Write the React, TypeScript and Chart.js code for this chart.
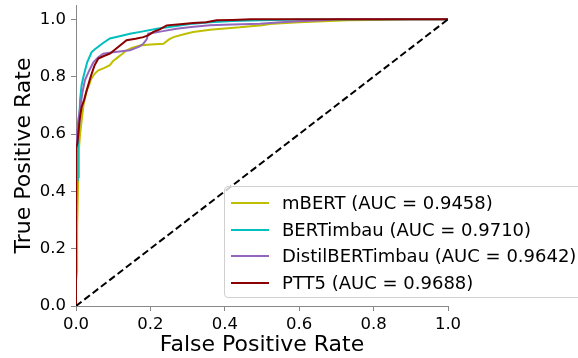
import React, { useEffect, useRef } from "react";
import { Chart, registerables } from "chart.js";

Chart.register(...registerables);

const FONT = "'DejaVu Sans', sans-serif";

const xTicks = [0, 0.2, 0.4, 0.6, 0.8, 1.0];
const yTicks = [0, 0.2, 0.4, 0.6, 0.8, 1.0];

const modelNames = ["mBERT", "BERTimbau", "DistilBERTimbau", "PTT5"];
const aucValues = ["0.9458", "0.9710", "0.9642", "0.9688"];
const modelColors = ["#bfbf00", "#00bfbf", "#9467bd", "#8b0000"];

const mbertFpr = [0, 0, 0.003, 0.003, 0.006, 0.008, 0.011, 0.02, 0.029, 0.035, 0.04, 0.05, 0.06, 0.075, 0.091, 0.1, 0.114, 0.125, 0.136, 0.15, 0.172, 0.2, 0.235, 0.25, 0.262, 0.29, 0.315, 0.34, 0.36, 0.4, 0.44, 0.47, 0.5, 0.53, 0.6, 0.73, 0.8, 0.9, 1.0];
const mbertTpr = [0, 0.09, 0.12, 0.27, 0.45, 0.55, 0.6, 0.7, 0.753, 0.77, 0.79, 0.81, 0.822, 0.83, 0.84, 0.855, 0.869, 0.88, 0.892, 0.9, 0.909, 0.912, 0.915, 0.93, 0.938, 0.948, 0.956, 0.96, 0.964, 0.968, 0.972, 0.976, 0.979, 0.985, 0.99, 0.997, 0.998, 1.0, 1.0];

const bertimbauFpr = [0, 0, 0.003, 0.005, 0.008, 0.011, 0.015, 0.02, 0.03, 0.042, 0.05, 0.07, 0.091, 0.12, 0.145, 0.18, 0.217, 0.26, 0.315, 0.36, 0.42, 0.5, 0.6, 0.75, 1.0];
const bertimbauTpr = [0, 0.28, 0.44, 0.55, 0.62, 0.72, 0.77, 0.8, 0.85, 0.886, 0.895, 0.915, 0.933, 0.942, 0.95, 0.958, 0.967, 0.975, 0.985, 0.99, 0.994, 0.997, 0.999, 1.0, 1.0];

const distilFpr = [0, 0, 0.003, 0.006, 0.012, 0.018, 0.024, 0.035, 0.047, 0.06, 0.073, 0.1, 0.145, 0.17, 0.181, 0.19, 0.194, 0.23, 0.27, 0.31, 0.36, 0.42, 0.495, 0.55, 0.6, 0.664, 0.7, 1.0];
const distilTpr = [0, 0.5, 0.6, 0.648, 0.7, 0.75, 0.787, 0.82, 0.851, 0.868, 0.88, 0.885, 0.892, 0.905, 0.915, 0.93, 0.95, 0.958, 0.967, 0.973, 0.979, 0.982, 0.985, 0.99, 0.993, 0.997, 1.0, 1.0];

const ptt5Fpr = [0, 0, 0.004, 0.006, 0.01, 0.015, 0.022, 0.029, 0.035, 0.042, 0.05, 0.06, 0.075, 0.091, 0.11, 0.136, 0.16, 0.181, 0.195, 0.208, 0.225, 0.244, 0.28, 0.315, 0.35, 0.378, 0.42, 0.47, 1.0];
const ptt5Tpr = [0, 0.55, 0.57, 0.6, 0.65, 0.694, 0.72, 0.753, 0.78, 0.81, 0.84, 0.863, 0.872, 0.88, 0.9, 0.927, 0.932, 0.938, 0.945, 0.956, 0.965, 0.979, 0.983, 0.987, 0.99, 0.997, 0.998, 1.0, 1.0];

const chanceFpr = [0, 1];
const chanceTpr = [0, 1];

const fprSeries = [mbertFpr, bertimbauFpr, distilFpr, ptt5Fpr];
const tprSeries = [mbertTpr, bertimbauTpr, distilTpr, ptt5Tpr];

const toPoints = (xs: number[], ys: number[]) => xs.map((x, i) => ({ x, y: ys[i] }));

export default function App() {
  const canvasRef = useRef<HTMLCanvasElement>(null);

  useEffect(() => {
    const canvas = canvasRef.current;
    if (!canvas) return;
    const datasets: any[] = modelNames.map((name, i) => ({
      label: `${name} (AUC = ${aucValues[i]})`,
      data: toPoints(fprSeries[i], tprSeries[i]),
      borderColor: modelColors[i],
      backgroundColor: modelColors[i],
      borderWidth: 2,
      pointRadius: 0,
      tension: 0,
      fill: false,
      order: 5 - i,
    }));
    datasets.push({
      label: "chance",
      data: toPoints(chanceFpr, chanceTpr),
      borderColor: "#000000",
      borderWidth: 2,
      borderDash: [7, 3.5],
      pointRadius: 0,
      fill: false,
      order: 0,
    });

    const tickFont = { family: FONT, size: 16.5 };
    const titleFont = { family: FONT, size: 22 };

    const chart = new Chart(canvas, {
      type: "line",
      data: { datasets },
      options: {
        animation: false,
        responsive: false,
        devicePixelRatio: 1,
        layout: { padding: { left: 0, top: 5, right: 130, bottom: 0 } },
        plugins: { legend: { display: false }, tooltip: { enabled: false } },
        scales: {
          x: {
            type: "linear",
            min: 0,
            max: 1,
            afterBuildTicks: (s: any) => {
              s.ticks = xTicks.map((v) => ({ value: v }));
            },
            afterFit: (s: any) => {
              s.height = 52;
              s.paddingLeft = 0;
              s.paddingRight = 0;
            },
            ticks: {
              autoSkip: false,
              maxRotation: 0,
              padding: 4,
              color: "#000",
              font: tickFont,
              callback: (v: any) => Number(v).toFixed(1),
            },
            grid: { drawOnChartArea: false, drawTicks: true, tickLength: 5, color: "#888" },
            border: { display: true, color: "#888", width: 1 },
            title: {
              display: true,
              text: "False Positive Rate",
              color: "#000",
              font: titleFont,
              padding: { top: 0, bottom: 0 },
            },
          },
          y: {
            type: "linear",
            min: 0,
            max: 1.05,
            afterBuildTicks: (s: any) => {
              s.ticks = yTicks.map((v) => ({ value: v }));
            },
            afterFit: (s: any) => {
              s.width = 76;
              s.paddingTop = 0;
              s.paddingBottom = 0;
            },
            ticks: {
              autoSkip: false,
              padding: 5,
              color: "#000",
              font: tickFont,
              callback: (v: any) => Number(v).toFixed(1),
            },
            grid: { drawOnChartArea: false, drawTicks: true, tickLength: 5, color: "#888" },
            border: { display: true, color: "#888", width: 1 },
            title: {
              display: true,
              text: "True Positive Rate",
              color: "#000",
              font: titleFont,
              padding: { top: 11, bottom: 0 },
            },
          },
        },
      },
    } as any);
    return () => chart.destroy();
  }, []);

  return (
    <div
      style={{
        position: "fixed",
        left: 0,
        top: 0,
        width: 578,
        height: 358,
        overflow: "hidden",
        background: "#fff",
      }}
    >
      <canvas ref={canvasRef} width={578} height={358} style={{ display: "block" }} />
      <div
        style={{
          position: "absolute",
          left: 224,
          top: 186,
          width: 380,
          height: 112,
          boxSizing: "border-box",
          border: "1px solid #d0d0d0",
          borderRadius: 4,
          background: "rgba(255,255,255,0.8)",
          fontFamily: FONT,
          fontSize: 18,
          color: "#000",
        }}
      >
        {modelNames.map((name, i) => (
          <div
            key={name}
            style={{
              position: "absolute",
              left: 0,
              top: 4 + i * 26.7,
              height: 24,
              width: "100%",
            }}
          >
            <div
              style={{
                position: "absolute",
                left: 6,
                top: 11,
                width: 38,
                height: 2,
                background: modelColors[i],
              }}
            />
            <div
              style={{
                position: "absolute",
                left: 57,
                top: 0,
                lineHeight: "24px",
                whiteSpace: "nowrap",
              }}
            >
              {`${name} (AUC = ${aucValues[i]})`}
            </div>
          </div>
        ))}
      </div>
    </div>
  );
}
